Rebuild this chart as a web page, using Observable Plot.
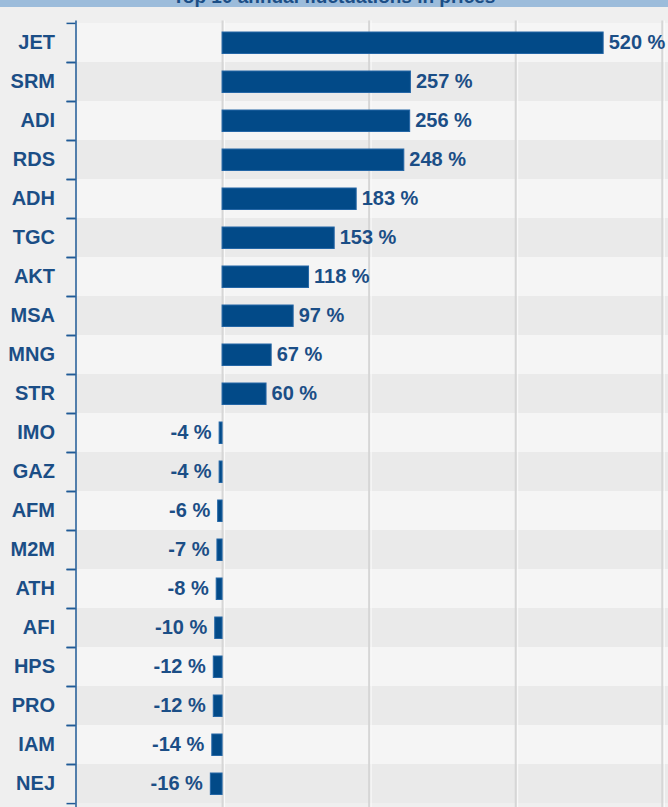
<!DOCTYPE html>
<html>
<head>
<meta charset="utf-8">
<script src="https://cdn.jsdelivr.net/npm/d3@7"></script>
<script src="https://cdn.jsdelivr.net/npm/@observablehq/plot@0.6"></script>
<style>
  html, body { margin: 0; padding: 0; background: #efefef; width: 668px; height: 807px; overflow: hidden; }
  #banner { height: 7px; background: #9cbcdb; overflow: hidden; position: relative; }
  #banner span { position: absolute; left: 0; width: 668px; text-align: center; top: -14px;
    font: bold 19px "Liberation Sans", Arial, sans-serif; color: #1b4e86; white-space: nowrap; }
  #chart svg { display: block; }
</style>
</head>
<body>
<div id="banner"><span>Top 10 annual fluctuations in prices</span></div>
<div id="chart"></div>
<script>
const title = "Top 10 annual fluctuations in prices";
const names = ["JET","SRM","ADI","RDS","ADH","TGC","AKT","MSA","MNG","STR","IMO","GAZ","AFM","M2M","ATH","AFI","HPS","PRO","IAM","NEJ"];
const values = [520,257,256,248,183,153,118,97,67,60,-4,-4,-6,-7,-8,-10,-12,-12,-14,-16];
const gridTicks = [0, 200, 400, 600];
const xDomain = [-200, 608.5];

const data = names.map((name, i) => ({name, value: values[i], i}));
const navy = "#1b4e86";
const barFill = "#024a88";
const band = 39.2;
const font = "'Liberation Sans', Arial, sans-serif";

const chart = Plot.plot({
  width: 668,
  height: 800,
  marginTop: 13.5,
  marginBottom: 2.5,
  marginLeft: 75.5,
  marginRight: 0,
  style: {background: "#efefef", fontFamily: font, overflow: "visible"},
  x: {domain: xDomain, axis: null},
  y: {domain: names, padding: 0, axis: null},
  marks: [
    Plot.cell(data.filter(d => d.i % 2 === 0), {y: "name", fill: "#f5f5f5"}),
    Plot.cell(data.filter(d => d.i % 2 === 1), {y: "name", fill: "#eaeaea"}),
    Plot.ruleX(gridTicks, {stroke: "#d6d6d6", strokeWidth: 2, insetBottom: -3}),
    Plot.ruleX(gridTicks, {stroke: "#fbfbfb", strokeWidth: 1, dx: 2, insetBottom: -3}),
    Plot.barX(data, {x: "value", y: "name", fill: barFill, stroke: "#2466a6", strokeWidth: 1, insetTop: 9, insetBottom: 8.5}),
    Plot.text(data.filter(d => d.value >= 0), {x: "value", y: "name", text: d => `${d.value} %`, textAnchor: "start", dx: 5, fill: navy, fontSize: 20, fontWeight: "bold"}),
    Plot.text(data.filter(d => d.value < 0), {x: "value", y: "name", text: d => `${d.value} %`, textAnchor: "end", dx: -8, fill: navy, fontSize: 20, fontWeight: "bold"}),
    Plot.ruleX([xDomain[0]], {stroke: "#1f5a96", strokeWidth: 1.5, insetBottom: -3}),
    Plot.axisY(names, {tickSize: 9, tickFormat: () => "", label: null, dy: -band / 2, stroke: "#1f5a96", strokeWidth: 1.5}),
    Plot.axisY(names, {tickSize: 9, tickFormat: () => "", label: null, dy: band / 2, stroke: "#1f5a96", strokeWidth: 1.5}),
    Plot.text(data, {y: "name", text: "name", frameAnchor: "left", dx: -21, textAnchor: "end", fill: navy, fontSize: 20, fontWeight: "bold"})
  ]
});
document.getElementById("chart").appendChild(chart);
</script>
</body>
</html>
